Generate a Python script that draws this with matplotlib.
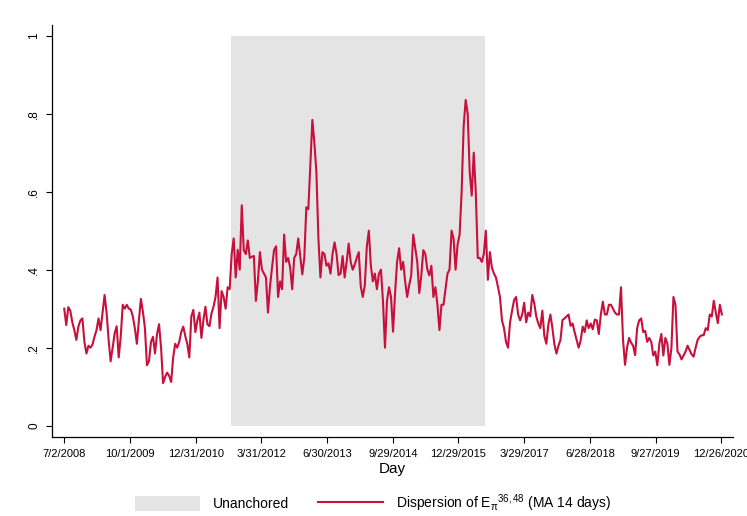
import pandas as pd
import matplotlib
matplotlib.use("Agg")
import matplotlib.pyplot as plt
from matplotlib.patches import Patch
from matplotlib.lines import Line2D

plt.rcParams['font.family'] = ['Liberation Sans', 'DejaVu Sans']
plt.rcParams['mathtext.fontset'] = 'custom'
plt.rcParams['mathtext.rm'] = 'Liberation Sans'
plt.rcParams['mathtext.it'] = 'Liberation Sans:italic'

# dispersion of expected inflation (MA 14 days), one value every two weeks
start = "2008-07-02"
step_days = 14
dispersion = [
    .300, .258, .304, .295, .265, .245, .220, .254, .270, .275,
    .215, .185, .205, .200, .208, .228, .245, .275, .245, .290,
    .335, .290, .220, .165, .200, .237, .255, .175, .228, .310,
    .300, .310, .300, .298, .280, .250, .210, .270, .325, .292,
    .250, .155, .165, .215, .228, .185, .235, .260, .200, .109,
    .125, .136, .128, .112, .175, .210, .200, .215, .240, .254,
    .230, .210, .175, .280, .297, .240, .270, .290, .225, .271,
    .305, .260, .255, .288, .305, .330, .380, .250, .345, .330,
    .300, .355, .350, .440, .480, .380, .451, .400, .565, .450,
    .440, .475, .430, .433, .435, .320, .370, .445, .400, .390,
    .380, .290, .357, .405, .450, .460, .330, .370, .350, .490,
    .420, .430, .405, .350, .430, .440, .480, .433, .388, .430,
    .560, .555, .670, .784, .725, .650, .480, .380, .445, .440,
    .410, .416, .390, .440, .470, .440, .386, .390, .435, .380,
    .420, .467, .420, .400, .413, .430, .445, .357, .330, .360,
    .460, .500, .410, .370, .390, .350, .390, .400, .320, .200,
    .320, .355, .330, .241, .340, .420, .455, .400, .420, .370,
    .330, .360, .385, .490, .455, .420, .340, .385, .450, .440,
    .400, .385, .410, .330, .355, .310, .245, .310, .310, .350,
    .390, .400, .500, .480, .400, .465, .490, .600, .767, .835,
    .800, .650, .590, .700, .600, .430, .430, .420, .440, .500,
    .374, .445, .405, .390, .380, .356, .330, .270, .250, .215,
    .200, .265, .295, .322, .330, .285, .270, .285, .315, .265,
    .290, .280, .335, .314, .280, .262, .250, .295, .230, .210,
    .260, .285, .250, .208, .185, .205, .220, .271, .275, .280,
    .285, .256, .262, .240, .220, .200, .218, .254, .240, .270,
    .250, .262, .247, .272, .270, .235, .285, .318, .285, .285,
    .310, .310, .300, .290, .285, .285, .355, .220, .156, .200,
    .225, .213, .205, .181, .250, .270, .275, .240, .243, .215,
    .225, .215, .180, .190, .155, .210, .235, .180, .225, .210,
    .156, .200, .330, .310, .190, .183, .170, .180, .190, .205,
    .194, .183, .177, .200, .220, .228, .232, .232, .250, .245,
    .285, .280, .320, .290, .263, .310, .285,
]

unanchored = ["2011-09-01", "2016-06-30"]

tick_start = "2008-07-02"
tick_step_days = 456
n_ticks = 11
y_ticks = [0, .2, .4, .6, .8, 1]
y_labels = ["0", ".2", ".4", ".6", ".8", "1"]

days = pd.date_range(start, periods=len(dispersion), freq=f"{step_days}D")
ticks = pd.date_range(tick_start, periods=n_ticks, freq=f"{tick_step_days}D")

red = "#C8103C"
grey = "#E4E4E4"

fig = plt.figure(figsize=(7.47, 5.16), dpi=100)
ax = fig.add_axes([0.0696, 0.1531, 0.9116, 0.799])

ax.fill_between(pd.to_datetime(unanchored), 0, 1, color=grey, lw=0, zorder=1)
ax.plot(days, dispersion, color=red, lw=1.5, zorder=2)

ax.set_xlim(ticks[0] - pd.Timedelta(days=85), ticks[-1] + pd.Timedelta(days=81))
ax.set_ylim(-0.029, 1.028)

ax.set_xticks(ticks)
ax.set_xticklabels([f"{d.month}/{d.day}/{d.year}" for d in ticks], fontsize=8)
ax.set_yticks(y_ticks)
ax.set_yticklabels(y_labels, fontsize=8.5, rotation=90, va="center")
ax.tick_params(length=4.5, width=0.8, color="black", pad=4)
ax.set_xlabel("Day", fontsize=11, labelpad=2)

for side in ["top", "right"]:
    ax.spines[side].set_visible(False)
for side in ["left", "bottom"]:
    ax.spines[side].set_linewidth(0.9)

handles = [Patch(facecolor=grey, edgecolor="none"),
           Line2D([], [], color=red, lw=1.5)]
labels = ["Unanchored", r"Dispersion of E$_{\mathrm{π}}$$^{36,48}$ (MA 14 days)"]
fig.legend(handles, labels, loc="lower center", bbox_to_anchor=(0.499, -0.02),
           ncol=2, frameon=False, fontsize=10, handlelength=4.7, handleheight=1.3,
           handletextpad=0.9, columnspacing=2.1)

fig.savefig("out.png", dpi=100, facecolor="white")
